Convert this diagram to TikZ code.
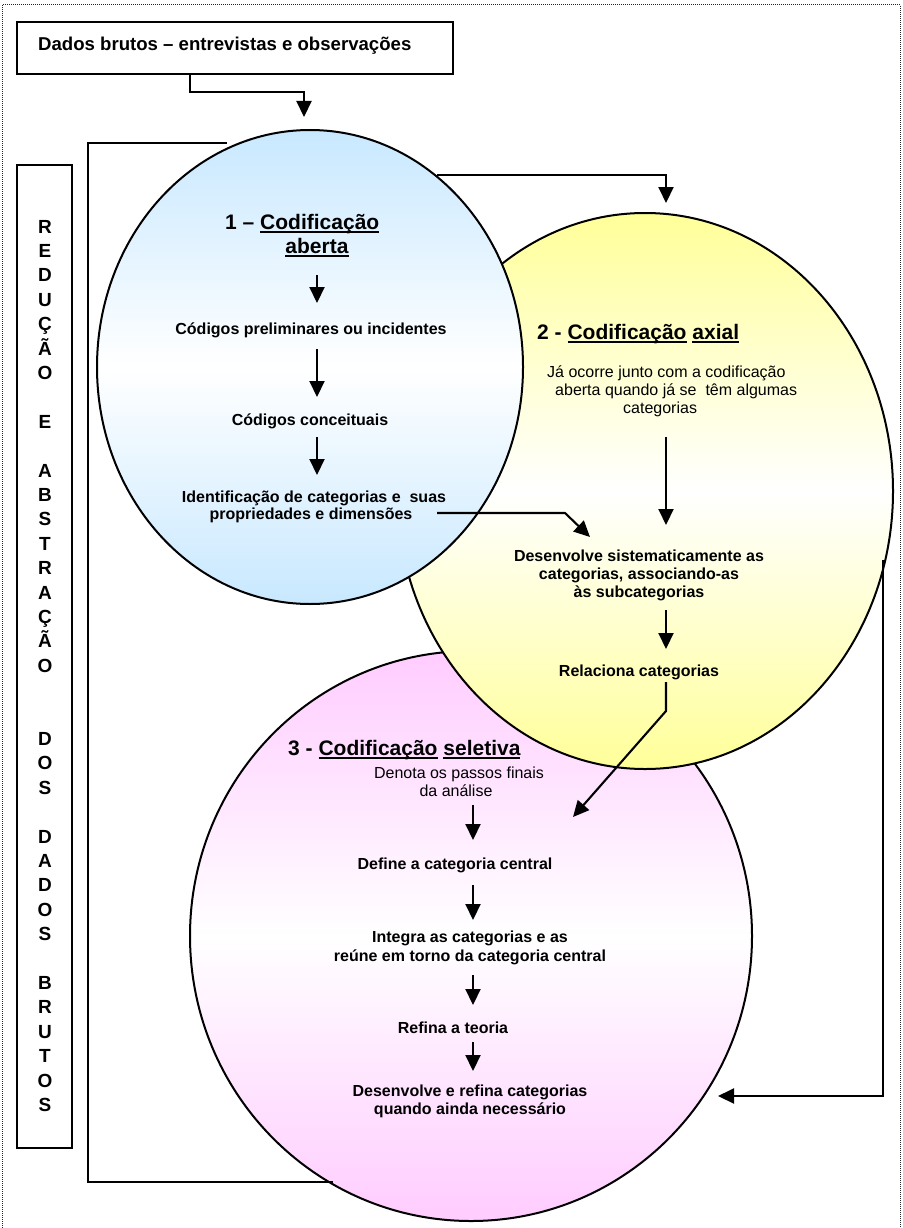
\documentclass[tikz,border=0pt]{standalone}
\usepackage{fontspec}
\setmainfont{Liberation Sans}
\usetikzlibrary{shapes.geometric,arrows.meta}
\definecolor{blueish}{HTML}{C8E8FF}
\definecolor{yellowish}{HTML}{FFFF99}
\definecolor{pinkish}{HTML}{FFCCFF}
\newsavebox\ulbox
\newcommand{\ulword}[1]{\sbox\ulbox{#1}\rlap{\rule[-4pt]{\wd\ulbox}{1.9pt}}\usebox\ulbox}
\begin{document}
\begin{tikzpicture}[x=1pt,y=-1pt,
  ell/.style={ellipse, draw, line width=2pt, inner sep=0pt, outer sep=0pt},
  conn/.style={line width=2.1pt, line join=miter},
  arr/.style={conn, -{Triangle[width=15pt,length=16pt]}},
  frame/.style={draw, line width=2pt, inner sep=0pt, outer sep=0pt, anchor=north west},
  bt/.style={font=\fontsize{16}{18}\selectfont\bfseries, inner sep=0pt, anchor=base},
  rt/.style={font=\fontsize{16}{18}\selectfont, inner sep=0pt, anchor=base west},
  hd/.style={font=\fontsize{21}{24}\selectfont\bfseries, inner sep=0pt, anchor=base west},
  vl/.style={font=\fontsize{19}{20}\selectfont\bfseries, inner sep=0pt, anchor=base}]
\useasboundingbox (0,0) rectangle (902,1228);

% page frame
\draw[line width=1pt, black!85, dash pattern=on 1pt off 1pt] (2,5) rectangle (900,1240);

% the three coding stages
\node[ell, minimum width=562pt, minimum height=570pt,
      top color=pinkish, bottom color=pinkish, middle color=white] (e3) at (471,936) {};
\node[ell, minimum width=496pt, minimum height=556pt,
      top color=yellowish, bottom color=yellowish, middle color=white] (e2) at (645,491) {};
\node[ell, minimum width=426pt, minimum height=474pt,
      top color=blueish, bottom color=blueish, middle color=white] (e1) at (310,367) {};

% raw data box
\node[frame, minimum width=436pt, minimum height=52pt] (src) at (17,22) {};
\node[font=\fontsize{18.6}{22}\selectfont\bfseries, inner sep=0pt, anchor=base west] (srct) at (38,51)
  {Dados brutos – entrevistas e observações};

% side label box
\node[frame, minimum width=55pt, minimum height=983pt] (side) at (17,165) {};
\foreach \ch/\k in {R/0,E/1,D/2,U/3,Ç/4,Ã/5,O/6,E/8,A/10,B/11,S/12,T/13,R/14,A/15,Ç/16,Ã/17,O/18,
                    D/21,O/22,S/23,D/25,A/26,D/27,O/28,S/29,B/31,R/32,U/33,T/34,O/35,S/36}
  \node[vl] (l\k) at (45,{233+24.4*\k}) {\ch};

% stage 1
\node[hd] (h1) at (225,229) {1 – \ulword{Codificação}};
\node[hd, anchor=base] (h1b) at (317,253) {\ulword{aberta}};
\node[bt] (a1) at (311,334) {Códigos preliminares ou incidentes};
\node[bt] (a2) at (310,425) {Códigos conceituais};
\node[bt] (a3) at (314,502) {Identificação de categorias e\ \ suas};
\node[bt] (a4) at (311,519) {propriedades e dimensões};

% stage 2
\node[hd] (h2) at (537,339) {2 - \ulword{Codificação} \ulword{axial}};
\node[rt] (b0) at (547,377) {Já ocorre junto com a codificação};
\node[rt] (b1) at (555,395) {aberta quando já se\ \ têm algumas};
\node[rt] (b2) at (623,413) {categorias};
\node[bt] (b3) at (639,561) {Desenvolve sistematicamente as};
\node[bt] (b4) at (639,579) {categorias, associando-as};
\node[bt] (b5) at (639,597) {às subcategorias};
\node[bt] (b6) at (639,676) {Relaciona categorias};

% stage 3
\node[hd] (h3) at (288,755) {3 - \ulword{Codificação} \ulword{seletiva}};
\node[rt, anchor=base] (c0) at (459,778) {Denota os passos finais};
\node[rt, anchor=base] (c1) at (456,796) {da análise};
\node[bt] (c2) at (455,869) {Define a categoria central};
\node[bt] (c3) at (470,942) {Integra as categorias e as};
\node[bt] (c4) at (470,961) {reúne em torno da categoria central};
\node[bt] (c5) at (453,1033) {Refina a teoria};
\node[bt] (c6) at (470,1096) {Desenvolve e refina categorias};
\node[bt] (c7) at (470,1114) {quando ainda necessário};

% connector end points
\coordinate (p0) at (190,74);
\coordinate (p1) at (304,117);
\coordinate (q0) at (437,175);
\coordinate (q1) at (666,203);
\coordinate (fa) at (227,143);
\coordinate (fb) at (333,1182);
\coordinate (ra) at (883,560);
\coordinate (rb) at (718,1096);
\coordinate (d0) at (437,513);
\coordinate (d1) at (590,537);
\coordinate (r0) at (666,682);
\coordinate (r1) at (573,817);

% flow between the stages
\draw[arr] (p0) -- (190,92) -- (304,92) -- (p1);
\draw[arr] (q0) -- (666,175) -- (q1);
\draw[conn] (fa) -- (88,143) -- (88,1182) -- (fb);
\draw[arr] (ra) -- (883,1096) -- (rb);
\draw[arr] (d0) -- (565,513) -- (d1);
\draw[arr] (r0) -- (666,711) -- (r1);

% steps inside stage 1
\coordinate (s1a) at (317,275); \coordinate (s1b) at (317,303);
\coordinate (s2a) at (317,349); \coordinate (s2b) at (317,397);
\coordinate (s3a) at (317,437); \coordinate (s3b) at (317,475);
\draw[arr] (s1a) -- (s1b);
\draw[arr] (s2a) -- (s2b);
\draw[arr] (s3a) -- (s3b);

% steps inside stage 2
\coordinate (t1a) at (666,437); \coordinate (t1b) at (666,525);
\coordinate (t2a) at (666,610); \coordinate (t2b) at (666,649);
\draw[arr] (t1a) -- (t1b);
\draw[arr] (t2a) -- (t2b);

% steps inside stage 3
\coordinate (u1a) at (473,805); \coordinate (u1b) at (473,840);
\coordinate (u2a) at (473,885); \coordinate (u2b) at (473,920);
\coordinate (u3a) at (473,975); \coordinate (u3b) at (473,1005);
\coordinate (u4a) at (473,1042); \coordinate (u4b) at (473,1071);
\draw[arr] (u1a) -- (u1b);
\draw[arr] (u2a) -- (u2b);
\draw[arr] (u3a) -- (u3b);
\draw[arr] (u4a) -- (u4b);
\end{tikzpicture}
\end{document}
